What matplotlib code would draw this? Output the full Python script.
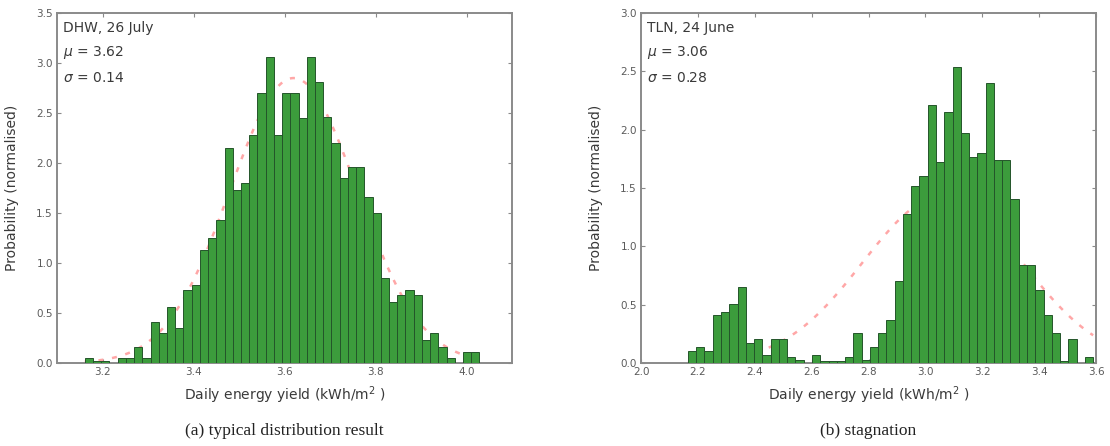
import numpy as np
import matplotlib
matplotlib.use("Agg")
import matplotlib.pyplot as plt

# ---------------- data ----------------
# (a) DHW, 26 July
a_start = 3.161
a_width = 0.01807
a_heights = [0.05, 0.02, 0.02, 0.0, 0.05, 0.05, 0.16, 0.05, 0.41, 0.30,
             0.56, 0.35, 0.73, 0.78, 1.13, 1.25, 1.43, 2.15, 1.73, 1.80,
             2.28, 2.70, 3.06, 2.28, 2.70, 2.70, 2.45, 3.06, 2.81, 2.46,
             2.20, 1.85, 1.96, 1.96, 1.66, 1.50, 0.85, 0.61, 0.68, 0.73,
             0.68, 0.23, 0.30, 0.16, 0.05, 0.0, 0.11, 0.11]
a_mu, a_sigma = 3.62, 0.14
a_title = "DHW, 26 July"
a_xticks = [3.2, 3.4, 3.6, 3.8, 4.0]
a_yticks = [0.0, 0.5, 1.0, 1.5, 2.0, 2.5, 3.0, 3.5]

# (b) TLN, 24 June
b_start = 2.165
b_width = 0.02908
b_heights = [0.10, 0.14, 0.10, 0.41, 0.44, 0.51, 0.65, 0.17, 0.21, 0.07,
             0.21, 0.21, 0.05, 0.03, 0.0, 0.07, 0.02, 0.02, 0.02, 0.05,
             0.26, 0.03, 0.14, 0.26, 0.37, 0.70, 1.28, 1.52, 1.60, 2.21,
             1.72, 2.15, 2.54, 1.97, 1.77, 1.80, 2.40, 1.74, 1.74, 1.41,
             0.84, 0.84, 0.63, 0.41, 0.26, 0.02, 0.21, 0.0, 0.05]
b_mu, b_sigma = 3.06, 0.28
b_title = "TLN, 24 June"
b_xticks = [2.0, 2.2, 2.4, 2.6, 2.8, 3.0, 3.2, 3.4, 3.6]
b_yticks = [0.0, 0.5, 1.0, 1.5, 2.0, 2.5, 3.0]

captions = ["(a) typical distribution result", "(b) stagnation"]

# ---------------- figure ----------------
W, H = 1110, 446
fig = plt.figure(figsize=(W / 100, H / 100), dpi=100)

def px_axes(l, r, t, b):
    return fig.add_axes([l / W, (H - b) / H, (r - l) / W, (b - t) / H])

ax1 = px_axes(57, 512, 13, 363)
ax2 = px_axes(641, 1096, 13, 363)

spine_col = "#8a8a8a"
txt_col = "#3a3a3a"

def draw(ax, start, width, heights, mu, sigma, title, xticks, yticks, xlim, ylim, caption, cx):
    n = len(heights)
    edges = start + width * np.arange(n)
    ax.bar(edges, heights, width=width, align="edge",
           color="#3c9c3c", edgecolor="#24552a", linewidth=0.7, zorder=3)
    xs = np.linspace(start, start + width * n, 200)
    ys = np.exp(-0.5 * ((xs - mu) / sigma) ** 2) / (sigma * np.sqrt(2 * np.pi))
    ax.plot(xs, ys, color="#ff8a8a", linestyle=(0, (2, 3.5)), linewidth=1.8, alpha=0.75, zorder=2)
    ax.set_xlim(*xlim)
    ax.set_ylim(*ylim)
    ax.set_xticks(xticks)
    ax.set_yticks(yticks)
    ax.set_xticklabels([f"{v:.1f}" for v in xticks])
    ax.set_yticklabels([f"{v:.1f}" for v in yticks])
    ax.tick_params(direction="in", top=True, right=True, length=3, width=0.8,
                   colors=spine_col, labelcolor="#5a5a5a", labelsize=7.5, pad=3)
    for s in ax.spines.values():
        s.set_color(spine_col)
        s.set_linewidth(1.4)
    ax.set_xlabel("Daily energy yield (kWh/m$^2$ )", fontsize=10, color=txt_col)
    ax.set_ylabel("Probability (normalised)", fontsize=10, color=txt_col)
    ax.xaxis.set_label_coords(0.5, -0.062)
    ax.yaxis.set_label_coords(-0.083, 0.5)
    ax.text(0.014, 0.957, title, transform=ax.transAxes, fontsize=10, color=txt_col, va="center")
    ax.text(0.014, 0.886, rf"$\mu$ = {mu:.2f}", transform=ax.transAxes, fontsize=10, color=txt_col, va="center")
    ax.text(0.014, 0.814, rf"$\sigma$ = {sigma:.2f}", transform=ax.transAxes, fontsize=10, color=txt_col, va="center")
    fig.text(cx / W, (H - 431) / H, caption, ha="center", va="center",
             fontsize=12.5, family="Liberation Serif", color="#222222")

draw(ax1, a_start, a_width, a_heights, a_mu, a_sigma, a_title, a_xticks, a_yticks,
     (3.1, 4.1), (0, 3.5), captions[0], 284)
draw(ax2, b_start, b_width, b_heights, b_mu, b_sigma, b_title, b_xticks, b_yticks,
     (2.0, 3.6), (0, 3.0), captions[1], 868)

fig.savefig("out.png", dpi=100)
